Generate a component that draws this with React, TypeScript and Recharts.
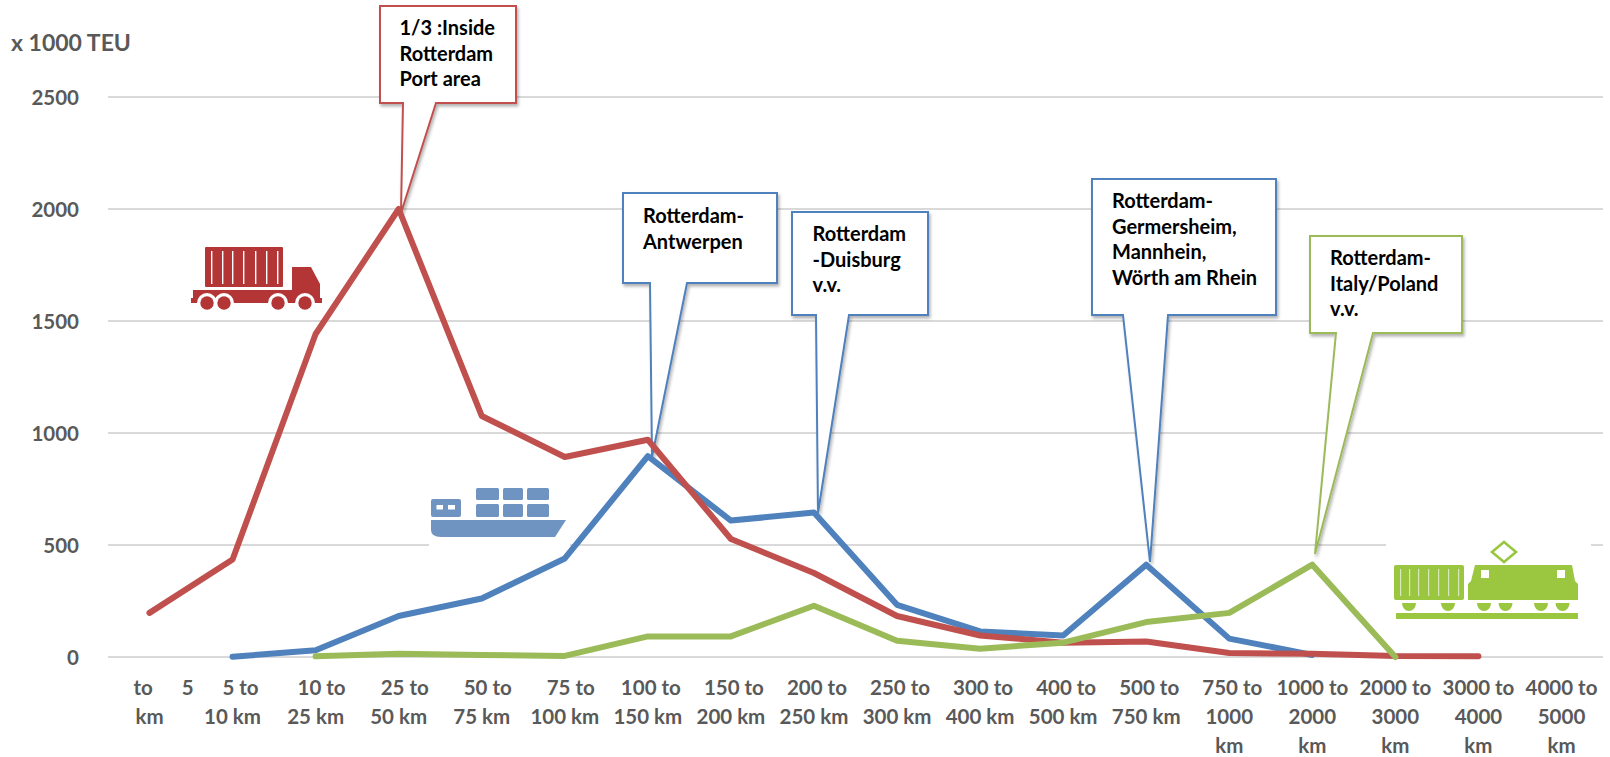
import { CartesianGrid, Customized, Line, LineChart, XAxis, YAxis } from 'recharts'

const FONT = 'Lato, Carlito, sans-serif'
const RED = '#c0504d'
const BLUE = '#4f81bd'
const GREEN = '#9bbb59'

const categories = [
    'to 5 km', '5 to 10 km', '10 to 25 km', '25 to 50 km', '50 to 75 km', '75 to 100 km',
    '100 to 150 km', '150 to 200 km', '200 to 250 km', '250 to 300 km', '300 to 400 km', '400 to 500 km',
    '500 to 750 km', '750 to 1000 km', '1000 to 2000 km', '2000 to 3000 km', '3000 to 4000 km', '4000 to 5000 km',
]
const tickLines = [
    ['to 5', 'km'], ['5 to', '10 km'], ['10 to', '25 km'], ['25 to', '50 km'], ['50 to', '75 km'], ['75 to', '100 km'],
    ['100 to', '150 km'], ['150 to', '200 km'], ['200 to', '250 km'], ['250 to', '300 km'], ['300 to', '400 km'], ['400 to', '500 km'],
    ['500 to', '750 km'], ['750 to', '1000', 'km'], ['1000 to', '2000', 'km'], ['2000 to', '3000', 'km'], ['3000 to', '4000', 'km'], ['4000 to', '5000', 'km'],
]
const road = [197, 435, 1442, 2000, 1076, 893, 970, 527, 375, 183, 96, 64, 69, 18, 14, 4, 3, null]
const water = [null, 1, 30, 183, 261, 440, 897, 609, 645, 233, 114, 96, 412, 82, 9, null, null, null]
const rail = [null, null, 3, 14, 9, 5, 92, 92, 229, 73, 37, 64, 156, 197, 412, 0, null, null]
const yTicks = [0, 500, 1000, 1500, 2000, 2500]

const data = categories.map((name, i) => ({ name, road: road[i], water: water[i], rail: rail[i] }))

// callout boxes are annotations, so they sit at page positions
const callouts = [
    { color: RED, box: [380, 6, 516, 103], tail: [403, 436, 401, 213], textX: 399.5, base: 35, lines: ['1/3 :Inside', 'Rotterdam', 'Port area'] },
    { color: BLUE, box: [623, 193, 777, 283], tail: [650, 687, 652, 457], textX: 643, base: 223, lines: ['Rotterdam-', 'Antwerpen'] },
    { color: BLUE, box: [792, 212, 928, 315], tail: [816, 849, 818, 513], textX: 812.5, base: 241, lines: ['Rotterdam', '-Duisburg', 'v.v.'] },
    { color: BLUE, box: [1092, 179, 1276, 315], tail: [1123, 1168, 1150, 562], textX: 1112, base: 208, lines: ['Rotterdam-', 'Germersheim,', 'Mannhein,', 'Wörth am Rhein'] },
    { color: GREEN, box: [1310, 236, 1462, 333], tail: [1336, 1373, 1315, 554], textX: 1330, base: 265, lines: ['Rotterdam-', 'Italy/Poland', 'v.v.'] },
]

const Callout = ({ color, box, tail, textX, base, lines }: typeof callouts[number]) => {
    const [x0, y0, x1, y1] = box
    const [left, right, tipX, tipY] = tail
    const d = `M${x0},${y0} H${x1} V${y1} H${right} L${tipX},${tipY} L${left},${y1} H${x0} Z`
    return (
        <g>
            <path d={d} fill="#fff" stroke={color} strokeWidth={2} filter="url(#calloutShadow)" />
            {lines.map((line, i) => (
                <text key={line} x={textX} y={base + i * 25.7} fontFamily={FONT} fontWeight={700} fontSize={20} fill="#000">
                    {line}
                </text>
            ))}
        </g>
    )
}

const Truck = () => {
    const color = '#b33536'
    return (
        <g fill={color}>
            <rect x={205} y={247} width={78} height={40} rx={1} />
            {[211, 222, 232, 243, 255, 266, 277].map((x) => (
                <rect key={x} x={x} y={251} width={1.4} height={33} fill="#fff" />
            ))}
            <path d="M292,267 H311 L320,284 V298 H292 Z" />
            <path d="M193,290 H292 V298 H322 V303 H191 V298 H193 Z" />
            {[207, 224, 278, 305].map((x) => (
                <g key={x}>
                    <circle cx={x} cy={303} r={10} fill="#fff" />
                    <circle cx={x} cy={303} r={6.7} />
                </g>
            ))}
        </g>
    )
}

const Ship = () => {
    const color = '#7094c2'
    return (
        <g fill={color}>
            {[476, 503, 527].map((x, i) => (
                <g key={x}>
                    <rect x={x} y={488} width={[23, 20, 22][i]} height={12} rx={1.5} />
                    <rect x={x} y={504} width={[23, 20, 22][i]} height={13} rx={1.5} />
                </g>
            ))}
            <rect x={431} y={499} width={30} height={18} rx={2} />
            <rect x={436.5} y={505} width={6.5} height={4.5} fill="#fff" />
            <rect x={448} y={505} width={7} height={4.5} fill="#fff" />
            <path d="M431,520 H566 L555,537 H441 Q431,537 431,530 Z" />
        </g>
    )
}

const Train = () => {
    const color = '#9ac640'
    return (
        <g fill={color}>
            <rect x={1394} y={565} width={70} height={35} rx={2} />
            {[1400, 1409, 1418, 1428, 1438, 1448, 1458].map((x) => (
                <rect key={x} x={x} y={569} width={1.2} height={27} fill="#d8e8b8" />
            ))}
            <path d="M1475,565 H1572 L1575,581 L1578,584 V600 H1468 V584 L1471,581 Z" />
            <rect x={1481} y={570} width={8} height={8} fill="#fff" />
            <rect x={1557} y={570} width={8} height={8} fill="#fff" />
            <path d="M1504,542 L1516,552 L1504,562 L1492,552 Z" fill="none" stroke={color} strokeWidth={2.6} />
            {[1409, 1448, 1484, 1505.5, 1541, 1562.5].map((x) => (
                <path key={x} d={`M${x - 7},603 H${x + 7} A7,8 0 0 1 ${x - 7},603 Z`} />
            ))}
            <rect x={1396} y={613} width={182} height={6} />
        </g>
    )
}

const Overlay = () => (
    <g>
        <defs>
            <filter id="calloutShadow" x="-20%" y="-10%" width="140%" height="120%">
                <feDropShadow dx={1.5} dy={2.5} stdDeviation={1.8} floodColor="#000" floodOpacity={0.3} />
            </filter>
        </defs>
        <rect x={185} y={244} width={142} height={65} fill="#fff" />
        <rect x={429} y={485} width={141} height={63} fill="#fff" />
        <rect x={1386} y={540} width={205} height={82} fill="#fff" />
        <Truck />
        <Ship />
        <Train />
        {callouts.map((c) => <Callout key={c.lines.join()} {...c} />)}
        <text x={11} y={51} fontFamily={FONT} fontWeight={700} fontSize={23} fill="#595959">x 1000 TEU</text>
    </g>
)

const CategoryTick = ({ x, payload, index }: any) => {
    const lines = tickLines[index] ?? [payload.value]
    const firstShift = index === 0 ? 14 : index === 1 ? 8 : index < 6 ? 6 : index < 14 ? 3 : 0
    return (
        <text x={x} textAnchor="middle" fontFamily={FONT} fontWeight={700} fontSize={20.5} fill="#595959">
            {lines.map((line: string, i: number) => (
                <tspan
                    key={i}
                    x={x + (i === 0 ? firstShift : 0)}
                    y={695 + i * 29}
                    style={index === 0 && i === 0 ? { wordSpacing: 24 } : undefined}
                >
                    {line}
                </tspan>
            ))}
        </text>
    )
}

const lineStyle = { strokeWidth: 6, strokeLinejoin: 'round', strokeLinecap: 'round' } as const

const App = () => (
    <div style={{ position: 'absolute', left: 0, top: 0, background: '#fff' }}>
        <LineChart
            width={1610}
            height={757}
            data={data}
            margin={{ top: 97, right: 7, bottom: 0, left: 0 }}
        >
            <CartesianGrid horizontal vertical={false} stroke="#d9d9d9" strokeWidth={2} />
            <XAxis
                dataKey="name"
                interval={0}
                height={100}
                padding={{ left: 41.5, right: 41.5 }}
                axisLine={false}
                tickLine={false}
                tick={CategoryTick}
            />
            <YAxis
                width={108}
                domain={[0, 2500]}
                ticks={yTicks}
                axisLine={false}
                tickLine={false}
                tickMargin={23}
                dy={1}
                tick={{ fontFamily: FONT, fontWeight: 700, fontSize: 20.5, fill: '#595959' }}
            />
            <Line dataKey="water" stroke={BLUE} {...lineStyle} dot={false} isAnimationActive={false} />
            <Line dataKey="road" stroke={RED} {...lineStyle} dot={false} isAnimationActive={false} />
            <Line dataKey="rail" stroke={GREEN} {...lineStyle} dot={false} isAnimationActive={false} />
            <Customized component={Overlay} />
        </LineChart>
    </div>
)

export default App
